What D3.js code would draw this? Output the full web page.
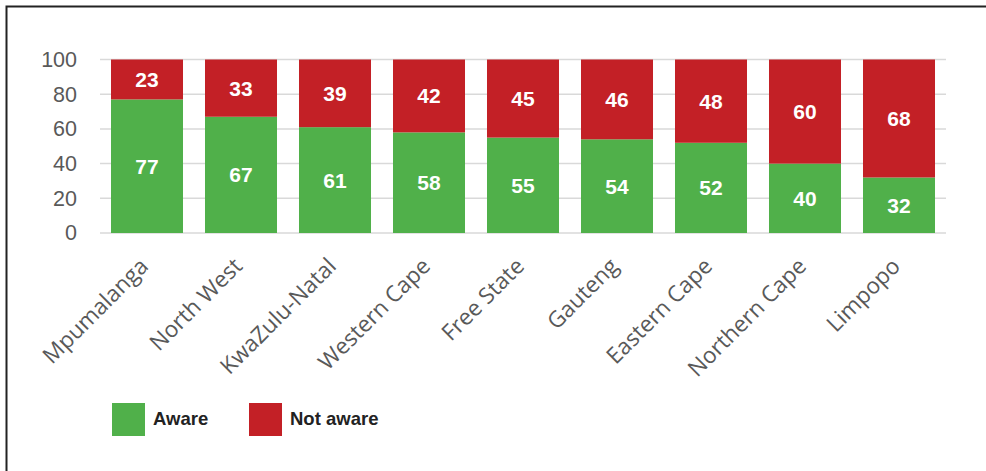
<!DOCTYPE html>
<html>
<head>
<meta charset="utf-8">
<script src="https://cdn.jsdelivr.net/npm/d3@7"></script>
<style>
  body { margin: 0; background: #fff; }
  svg { display: block; }
</style>
</head>
<body>
<svg width="986" height="471"></svg>
<script>
// Data
const provinces = ['Mpumalanga', 'North West', 'KwaZulu-Natal', 'Western Cape', 'Free State',
                   'Gauteng', 'Eastern Cape', 'Northern Cape', 'Limpopo'];
const aware    = [77, 67, 61, 58, 55, 54, 52, 40, 32];
const notAware = [23, 33, 39, 42, 45, 46, 48, 60, 68];
const yTicks   = [0, 20, 40, 60, 80, 100];
const seriesNames  = ['Aware', 'Not aware'];
const seriesColors = ['#50b04a', '#c32026'];

function draw () {
  let svg = d3.select('svg');

  // frame (only top and left edges show in the original crop)
  svg.append('rect')
    .attr('x', 6.5).attr('y', 6.5)
    .attr('width', 1000).attr('height', 500)
    .attr('fill', 'none')
    .attr('stroke', '#222')
    .attr('stroke-width', 2);

  let x = d3.scaleBand()
    .domain(provinces)
    .range([100, 946])
    .paddingInner(0.234)
    .paddingOuter(0.117);

  let y = d3.scaleLinear().domain([0, 100]).range([233, 59.5]);

  // gridlines
  svg.append('g')
    .selectAll('line')
    .data(yTicks)
    .enter().append('line')
      .attr('x1', 100).attr('x2', 946)
      .attr('y1', d => y(d)).attr('y2', d => y(d))
      .attr('stroke', '#d9d9d9')
      .attr('stroke-width', 1.5);

  // y axis labels
  let yAxis = d3.axisLeft(y).tickValues(yTicks).tickSize(0).tickPadding(0);
  svg.append('g')
    .attr('transform', 'translate(77,0)')
    .call(yAxis)
    .call(g => g.select('.domain').remove())
    .call(g => g.selectAll('text')
      .attr('fill', '#595959')
      .attr('font-family', 'Liberation Sans, Arial, sans-serif')
      .attr('font-size', 21.5));

  // stacked bars
  let rows = provinces.map((p, i) => ({ name: p, Aware: aware[i], 'Not aware': notAware[i] }));
  let stack = d3.stack().keys(seriesNames)(rows);

  let layer = svg.selectAll('.layer')
    .data(stack)
    .enter().append('g')
      .attr('class', 'layer')
      .attr('fill', (d, i) => seriesColors[i]);

  layer.selectAll('rect')
    .data(d => d)
    .enter().append('rect')
      .attr('x', d => x(d.data.name))
      .attr('y', d => y(d[1]))
      .attr('width', x.bandwidth())
      .attr('height', d => y(d[0]) - y(d[1]));

  layer.selectAll('text')
    .data(d => d)
    .enter().append('text')
      .attr('x', d => x(d.data.name) + x.bandwidth() / 2)
      .attr('y', d => (y(d[0]) + y(d[1])) / 2)
      .attr('dy', '0.36em')
      .attr('text-anchor', 'middle')
      .attr('fill', '#fff')
      .attr('font-family', 'Liberation Sans, Arial, sans-serif')
      .attr('font-weight', 'bold')
      .attr('font-size', 21)
      .text(d => d[1] - d[0]);

  // category labels
  svg.append('g')
    .selectAll('text')
    .data(provinces)
    .enter().append('text')
      .attr('transform', d => `translate(${x(d) + x.bandwidth() / 2 - 3},${262}) rotate(-45)`)
      .attr('text-anchor', 'end')
      .attr('dy', '0.35em')
      .attr('fill', '#595959')
      .attr('font-family', 'Open Sans, sans-serif')
      .attr('font-size', 22.5)
      .text(d => d);

  // legend
  let legendX = [112, 249];
  let legend = svg.append('g')
    .selectAll('g')
    .data(seriesNames)
    .enter().append('g')
      .attr('transform', (d, i) => `translate(${legendX[i]},403)`);

  legend.append('rect')
    .attr('width', 33).attr('height', 33)
    .attr('fill', (d, i) => seriesColors[i]);

  legend.append('text')
    .attr('x', 41).attr('y', 22)
    .attr('fill', '#222')
    .attr('font-family', 'Liberation Sans, Arial, sans-serif')
    .attr('font-weight', 'bold')
    .attr('font-size', 18.5)
    .text(d => d);
}

draw();
</script>
</body>
</html>
